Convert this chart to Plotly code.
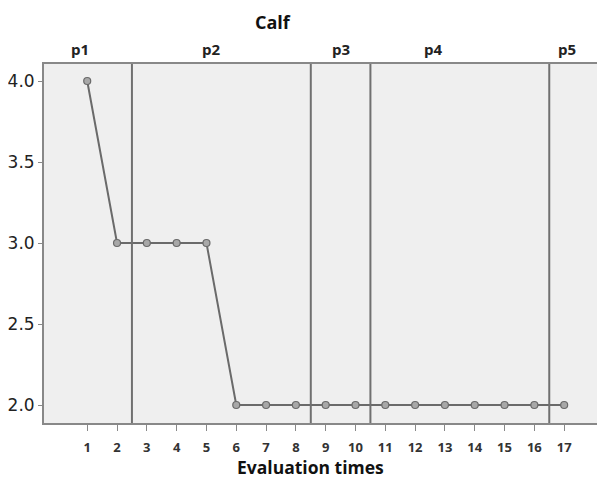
import plotly.graph_objects as go

# Data
evaluation_times = list(range(1, 18))
calf_scores = [4.0, 3.0, 3.0, 3.0, 3.0, 2.0, 2.0, 2.0, 2.0, 2.0, 2.0, 2.0, 2.0, 2.0, 2.0, 2.0, 2.0]
phase_boundaries = [2.5, 8.5, 10.5, 16.5]
phase_labels = ["p1", "p2", "p3", "p4", "p5"]
y_ticks = [2.0, 2.5, 3.0, 3.5, 4.0]
y_tick_labels = ["2.0", "2.5", "3.0", "3.5", "4.0"]

# Layout-only positions for phase labels (x in data units)
phase_label_x = [0.77, 5.16, 9.52, 12.6, 17.1]

# The page body has an 8px margin, so the figure is sized to fill the rest of the window
W, H = 597, 470
ML, MR, MT, MB = 36, 0, 56, 55
PW, PH = W - ML - MR, H - MT - MB

fig = go.Figure()
fig.add_trace(go.Scatter(
    x=evaluation_times, y=calf_scores, mode="lines+markers",
    line=dict(color="#6a6a6a", width=2),
    marker=dict(symbol="circle", size=7, color="#a8a8a8",
                line=dict(color="#6a6a6a", width=1.2)),
    showlegend=False, cliponaxis=False,
))

for b in phase_boundaries:
    fig.add_shape(type="line", xref="x", yref="paper", x0=b, x1=b, y0=0, y1=1,
                  line=dict(color="#707070", width=2))

for lab, xp in zip(phase_labels, phase_label_x):
    fig.add_annotation(x=xp, y=1, xref="x", yref="paper", yanchor="bottom", yshift=3,
                       text="<b>%s</b>" % lab, showarrow=False,
                       font=dict(family="Open Sans", size=15, color="#222"))

# Chart title
fig.add_annotation(x=(265 - ML) / PW, y=(H - 14 - MB) / PH,
                   xref="paper", yref="paper", xanchor="center", yanchor="middle",
                   showarrow=False, text="<b>Calf</b>",
                   font=dict(family="Open Sans", size=18, color="#111"))

# X-axis title (placed slightly left of the plot centre, as in the reference)
fig.add_annotation(x=(302 - ML) / PW, y=(H - 459 - MB) / PH,
                   xref="paper", yref="paper", xanchor="center", yanchor="middle",
                   showarrow=False, text="<b>Evaluation times</b>",
                   font=dict(family="Open Sans", size=17.5, color="#111"))

fig.update_layout(
    width=W, height=H,
    margin=dict(l=ML, r=MR, t=MT, b=MB, autoexpand=False),
    paper_bgcolor="white",
    plot_bgcolor="#efefef",
    font=dict(family="Liberation Sans", color="#222"),
    xaxis=dict(
        automargin=False,
        range=[-0.45, 18.37], tickmode="array", tickvals=evaluation_times,
        ticktext=["<b>%d</b>" % v for v in evaluation_times],
        tickfont=dict(family="Open Sans", size=13, color="#333"),
        ticks="outside", ticklen=6, tickcolor="#888", tickwidth=1,
        ticklabelstandoff=5,
        showgrid=False, zeroline=False,
        showline=True, linecolor="#888", linewidth=2, mirror=True,
    ),
    yaxis=dict(
        automargin=False,
        range=[1.889, 4.105], tickmode="array", tickvals=y_ticks, ticktext=y_tick_labels,
        tickfont=dict(family="DejaVu Sans", size=17, color="#222"),
        ticks="outside", ticklen=4, tickcolor="#888",
        showgrid=False, zeroline=False,
        showline=True, linecolor="#888", linewidth=2, mirror=True,
    ),
)

fig.write_html("out.html")
